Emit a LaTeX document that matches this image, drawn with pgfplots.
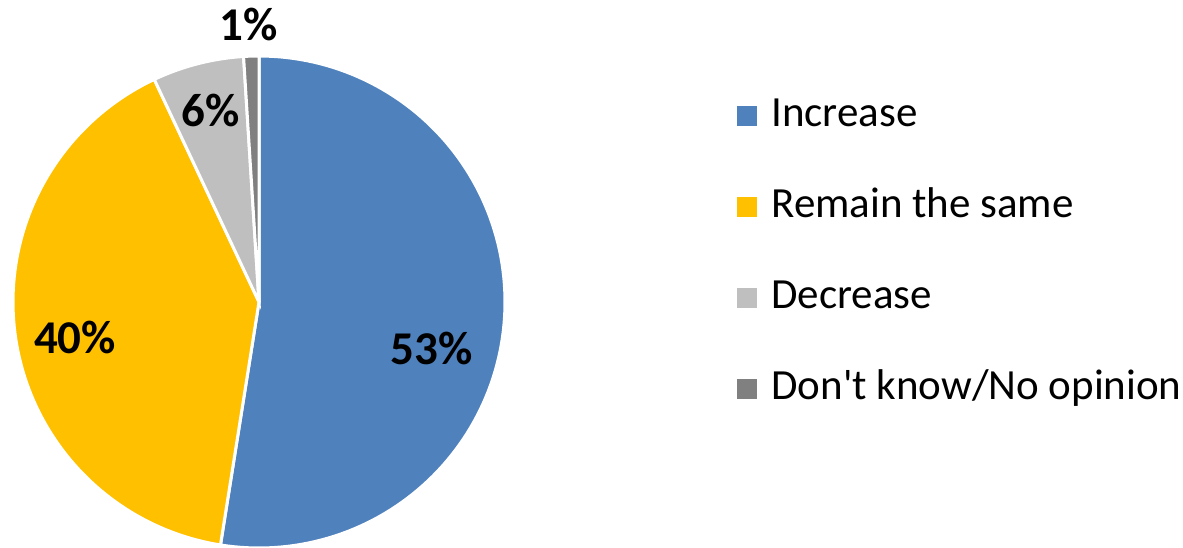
\documentclass[border=0pt]{standalone}
\usepackage{fontspec}
\setmainfont{Carlito}
\usepackage{pgfplots}
\pgfplotsset{compat=1.18}
\definecolor{cInc}{HTML}{4F81BD}
\definecolor{cRem}{HTML}{FFC000}
\definecolor{cDec}{HTML}{BFBFBF}
\definecolor{cDK}{HTML}{808080}
% shares (percent)
\def\vA{52.5}\def\vB{40.5}\def\vC{6.0}\def\vD{1.0}
\pgfmathsetmacro\aA{90}
\pgfmathsetmacro\aB{\aA-3.6*\vA}
\pgfmathsetmacro\aC{\aB-3.6*\vB}
\pgfmathsetmacro\aD{\aC-3.6*\vC}
\pgfmathsetmacro\aE{\aD-3.6*\vD}
\begin{document}
\begin{tikzpicture}
\useasboundingbox (0,0) rectangle (591.5pt,273.5pt);
\begin{axis}[
  at={(129.5pt,122.5pt)}, anchor=origin,
  scale only axis, width=246pt, height=246pt,
  xmin=-1, xmax=1, ymin=-1, ymax=1,
  hide axis, clip=false,
  legend cell align=left,
  legend image code/.code={\fill[#1,draw=none] (0pt,-5pt) rectangle (10pt,5pt);},
  legend style={draw=none, fill=none, at={(axis cs:1.943,0.201)}, anchor=west,
    inner sep=0pt, row sep=27.5pt,
    nodes={inner sep=0pt, text height=14pt, text depth=4pt, font=\fontsize{21.5}{25}\selectfont},
    /tikz/every odd column/.append style={column sep=7pt}},
]
\addplot[fill=cInc, draw=white, line width=1.5pt, domain=\aB:\aA, samples=120, variable=\t] ({cos(\t)},{sin(\t)}) -- (axis cs:0,0) -- cycle;
\addlegendentry{Increase}
\addplot[fill=cRem, draw=white, line width=1.5pt, domain=\aC:\aB, samples=100, variable=\t] ({cos(\t)},{sin(\t)}) -- (axis cs:0,0) -- cycle;
\addlegendentry{Remain the same}
\addplot[fill=cDec, draw=white, line width=1.5pt, domain=\aD:\aC, samples=30, variable=\t] ({cos(\t)},{sin(\t)}) -- (axis cs:0,0) -- cycle;
\addlegendentry{Decrease}
\addplot[fill=cDK, draw=white, line width=1.5pt, domain=\aE:\aD, samples=10, variable=\t] ({cos(\t)},{sin(\t)}) -- (axis cs:0,0) -- cycle;
\addlegendentry{Don\textquotesingle t know/No opinion}
\begin{scope}[every node/.style={font=\bfseries\fontsize{23.5}{28}\selectfont}]
\node at (axis cs:0.703,-0.187) {53\%};
\node at (axis cs:-0.748,-0.146) {40\%};
\node at (axis cs:-0.195,0.780) {6\%};
\node at (axis cs:-0.041,1.130) {1\%};
\end{scope}
\end{axis}
\end{tikzpicture}
\end{document}
